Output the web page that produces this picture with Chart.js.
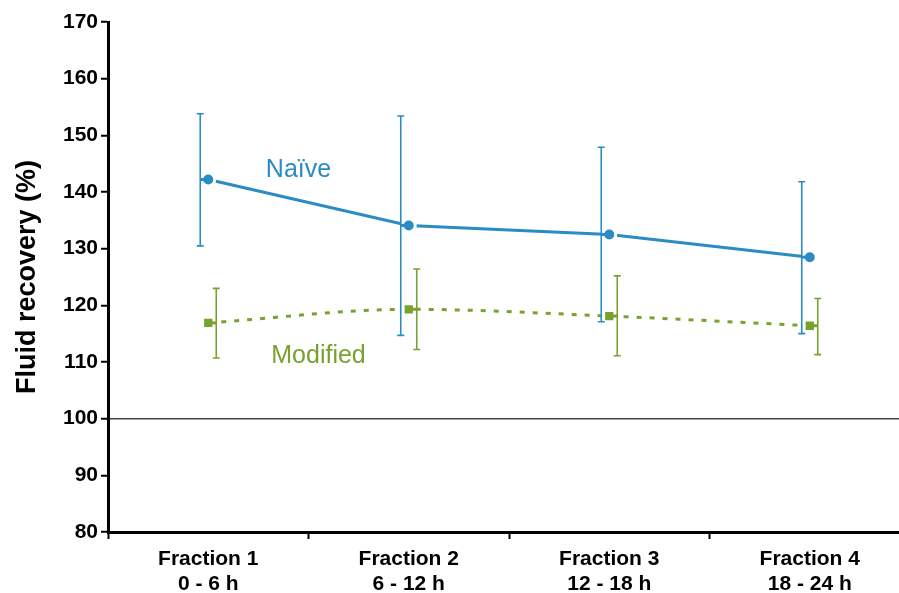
<!DOCTYPE html>
<html>
<head>
<meta charset="utf-8">
<script src="https://cdn.jsdelivr.net/npm/chart.js@4.4.1/dist/chart.umd.min.js"></script>
<style>
  html, body { margin: 0; padding: 0; background: #fff; overflow: hidden; }
  canvas { display: block; }
</style>
</head>
<body>
<canvas id="chart" width="921" height="593"></canvas>
<script>
const fractions = [["Fraction 1", "0 - 6 h"], ["Fraction 2", "6 - 12 h"], ["Fraction 3", "12 - 18 h"], ["Fraction 4", "18 - 24 h"]];
const naive = [142.2, 134.1, 132.5, 128.5];
const naiveHigh = [153.8, 153.4, 147.9, 141.8];
const naiveLow = [130.5, 114.7, 117.1, 115.0];
const modified = [116.9, 119.3, 118.1, 116.4];
const modifiedHigh = [123.0, 126.4, 125.2, 121.2];
const modifiedLow = [110.7, 112.2, 111.1, 111.3];

const BLUE = '#2b8bc3';
const GREEN = '#78a22f';

// error bars drawn beside each marker, with a short stub back to the point
const errorBars = {
    id: 'errorBars',
    afterDatasetsDraw(chart) {
        const ctx = chart.ctx;
        const y = chart.scales.y;
        chart.data.datasets.forEach((ds, di) => {
            const meta = chart.getDatasetMeta(di);
            ctx.save();
            ctx.strokeStyle = ds.borderColor;
            meta.data.forEach((pt, i) => {
                const x = pt.x + ds.errOffset;
                const top = y.getPixelForValue(ds.errHigh[i]);
                const bot = y.getPixelForValue(ds.errLow[i]);
                ctx.lineWidth = 1.6;
                ctx.beginPath();
                ctx.moveTo(x, top); ctx.lineTo(x, bot);
                ctx.moveTo(x - 3.5, top); ctx.lineTo(x + 3.5, top);
                ctx.moveTo(x - 3.5, bot); ctx.lineTo(x + 3.5, bot);
                ctx.stroke();
                ctx.lineWidth = 3;
                ctx.beginPath();
                ctx.moveTo(x, pt.y); ctx.lineTo(pt.x, pt.y);
                ctx.stroke();
            });
            ctx.restore();
        });
    }
};

const seriesLabels = {
    id: 'seriesLabels',
    afterDraw(chart) {
        const ctx = chart.ctx;
        const x = chart.scales.x, y = chart.scales.y;
        ctx.save();
        ctx.font = '25px "Liberation Sans", Arial, sans-serif';
        ctx.textAlign = 'center';
        ctx.textBaseline = 'middle';
        ctx.fillStyle = BLUE;
        ctx.fillText('Naïve', x.getPixelForValue(0.45), y.getPixelForValue(143.9));
        ctx.fillStyle = GREEN;
        ctx.fillText('Modified', x.getPixelForValue(0.55), y.getPixelForValue(111.1));
        ctx.restore();
    }
};

new Chart(document.getElementById('chart'), {
    type: 'line',
    data: {
        labels: fractions,
        datasets: [{
            label: 'Naïve',
            data: naive,
            errHigh: naiveHigh,
            errLow: naiveLow,
            errOffset: -8,
            borderColor: BLUE,
            backgroundColor: BLUE,
            borderWidth: 3,
            pointStyle: 'circle',
            pointRadius: 6.5,
            pointBorderWidth: 3,
            pointBorderColor: '#fff',
            pointBackgroundColor: BLUE,
            tension: 0
        }, {
            label: 'Modified',
            data: modified,
            errHigh: modifiedHigh,
            errLow: modifiedLow,
            errOffset: 8,
            borderColor: GREEN,
            backgroundColor: GREEN,
            borderWidth: 3,
            borderDash: [5, 8],
            pointStyle: 'rect',
            pointRadius: 8,
            pointBorderWidth: 3,
            pointBorderColor: '#fff',
            pointBackgroundColor: GREEN,
            cubicInterpolationMode: 'monotone'
        }]
    },
    plugins: [errorBars, seriesLabels],
    options: {
        responsive: false,
        animation: false,
        layout: { padding: { top: 22, right: 0, bottom: 0, left: 0 } },
        plugins: {
            legend: { display: false },
            tooltip: { enabled: false }
        },
        scales: {
            x: {
                offset: true,
                afterFit(scale) {
                    scale.height = 61;
                    scale.paddingLeft = 0;
                    scale.paddingRight = 0;
                },
                border: { color: '#000', width: 3 },
                grid: {
                    offset: true,
                    drawOnChartArea: false,
                    tickLength: 7,
                    tickColor: '#000',
                    tickWidth: 2
                },
                ticks: {
                    color: '#000',
                    padding: 8,
                    maxRotation: 0,
                    font: { family: '"Liberation Sans", Arial, sans-serif', size: 21, weight: 'bold', lineHeight: 1.17 }
                }
            },
            y: {
                min: 80,
                max: 170,
                afterFit(scale) { scale.width = 108; },
                border: { color: '#000', width: 3 },
                grid: {
                    color: (c) => c.tick && c.tick.value === 100 ? '#444' : 'rgba(0,0,0,0)',
                    lineWidth: 1.5,
                    tickLength: 7,
                    tickColor: '#000',
                    tickWidth: 2
                },
                ticks: {
                    stepSize: 10,
                    color: '#000',
                    padding: 3,
                    font: { family: '"Liberation Sans", Arial, sans-serif', size: 21, weight: 'bold' }
                },
                title: {
                    display: true,
                    text: 'Fluid recovery (%)',
                    color: '#000',
                    padding: { top: 11, bottom: 0 },
                    font: { family: '"Liberation Sans", Arial, sans-serif', size: 27, weight: 'bold' }
                }
            }
        }
    }
});
</script>
</body>
</html>
